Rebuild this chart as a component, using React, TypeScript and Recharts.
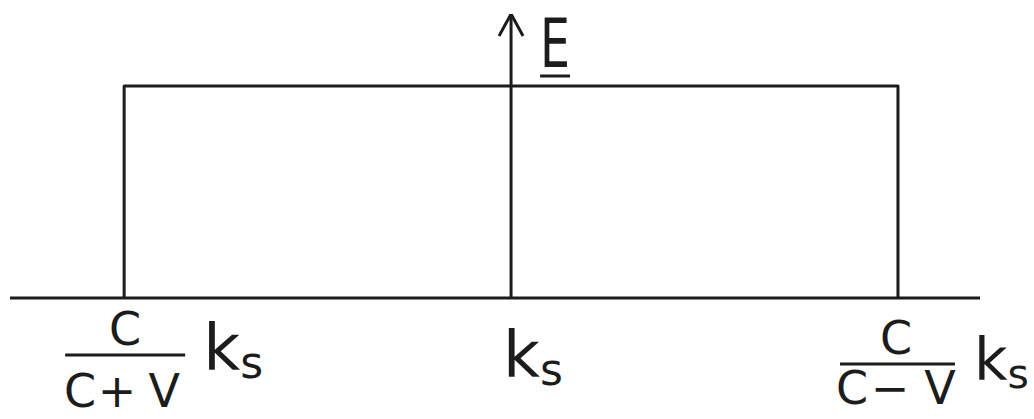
// Spectre rectangulaire (croquis) : bande entre c/(c+v)·ks et c/(c−v)·ks.
import { Line, LineChart, XAxis, YAxis } from "recharts";

const INK = "#1c1c1c";
const FONT = "'DejaVu Sans', sans-serif";

// positions des graduations (non à l'échelle, comme sur le croquis)
const tickPos = [-1, 0, 1];
const tickNames = ["c/(c+v) ks", "ks", "c/(c−v) ks"];

const xDomain = [-1.295, 1.212];
const yDomain = [0, 1.34];

// niveau du spectre E
const bandX = [-1, -1, 1, 1];
const bandE = [0, 1, 1, 0];

// axe vertical E (flèche)
const axisX = [0, 0];
const axisE = [0, 1.34];

const band = bandX.map((x, i) => ({ x, e: bandE[i] }));
const axis = axisX.map((x, i) => ({ x, e: axisE[i] }));

function Frac({ num, den, dx, barDy, denDy, w }: { num: string; den: [string, number][]; dx: number; barDy: number; denDy: number; w: [number, number] }) {
  return (
    <g>
      <text x={dx} y={barDy - 10} textAnchor="middle" fontSize={46} fill={INK} fontFamily={FONT}>{num}</text>
      <line x1={w[0]} x2={w[1]} y1={barDy} y2={barDy} stroke={INK} strokeWidth={3} />
      {den.map(([s, ox]) => (
        <text key={ox} x={ox} y={barDy + denDy} textAnchor="middle" fontSize={46} fill={INK} fontFamily={FONT}>{s}</text>
      ))}
    </g>
  );
}

// k avec indice s, en un seul texte
function Ks({ dx, dy, k = 64, s = 44 }: { dx: number; dy: number; k?: number; s?: number }) {
  return (
    <text x={dx} y={dy} fill={INK} fontFamily={FONT} fontSize={k}>
      k<tspan dy={8} fontSize={s}>s</tspan>
    </text>
  );
}

function Tick(props: any) {
  const { x, y, payload } = props;
  const v = payload.value;
  return (
    <g transform={`translate(${x},${y})`}>
      {v === -1 && (
        <>
          <Frac num="C" den={[["C", -44], ["+", -7], ["V", 40]]} dx={1} barDy={57} denDy={52} w={[-59, 61]} />
          <Ks dx={79} dy={72} />
        </>
      )}
      {v === 0 && <Ks dx={-8} dy={79} />}
      {v === 1 && (
        <>
          <Frac num="C" den={[["C", -46], ["−", -8], ["V", 42]]} dx={-2} barDy={66} denDy={40} w={[-58, 57]} />
          <Ks dx={76} dy={82} k={58} s={41} />
        </>
      )}
    </g>
  );
}

function ArrowHead(props: any) {
  const { cx, cy, index } = props;
  if (index !== 1) return <g key={index} />;
  return (
    <g key={index}>
      <path d={`M${cx - 12},${cy + 22} L${cx},${cy} L${cx + 12},${cy + 22}`} fill="none" stroke={INK} strokeWidth={3} strokeLinejoin="round" />
      <text x={cx + 29} y={cy + 53} fontSize={68} textLength={30} lengthAdjust="spacingAndGlyphs" fill={INK} fontFamily={FONT}>E</text>
      <line x1={cx + 29} x2={cx + 59} y1={cy + 62} y2={cy + 62} stroke={INK} strokeWidth={3} />
    </g>
  );
}

export default function App() {
  return (
    <div style={{ position: "absolute", left: 0, top: 0, background: "#fff" }}>
      <LineChart width={1034} height={419} margin={{ top: 14, right: 54, bottom: 0, left: 10 }}>
        <XAxis
          type="number"
          dataKey="x"
          domain={xDomain}
          ticks={tickPos}
          allowDataOverflow
          height={121}
          tickLine={false}
          tickSize={0}
          tickMargin={0}
          interval={0}
          axisLine={{ stroke: INK, strokeWidth: 3 }}
          tick={<Tick />}
          tickFormatter={(v) => tickNames[tickPos.indexOf(v)]}
        />
        <YAxis type="number" domain={yDomain} hide width={0} allowDataOverflow />
        <Line data={band} dataKey="e" type="linear" stroke={INK} strokeWidth={3} dot={false} isAnimationActive={false} strokeLinejoin="round" />
        <Line data={axis} dataKey="e" type="linear" stroke={INK} strokeWidth={3} dot={<ArrowHead />} activeDot={false} isAnimationActive={false} />
      </LineChart>
    </div>
  );
}
